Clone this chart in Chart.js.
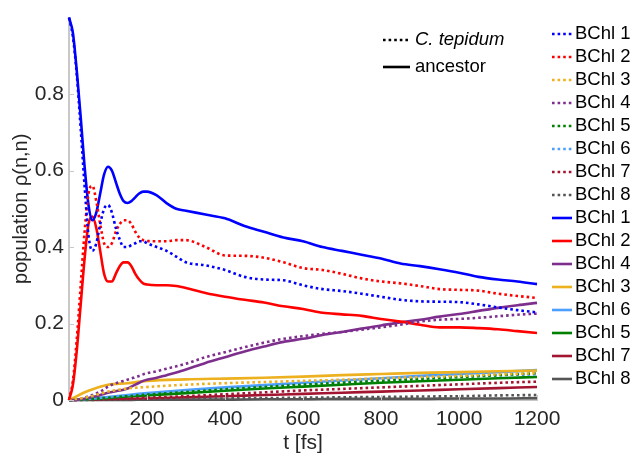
<!DOCTYPE html>
<html>
<head>
<meta charset="utf-8">
<script src="https://cdn.jsdelivr.net/npm/chart.js@4"></script>
<style>
  html, body { margin: 0; padding: 0; background: #fff; }
  #wrap { width: 635px; height: 459px; }
</style>
</head>
<body>
<div id="wrap"><canvas id="popChart" width="635" height="459"></canvas></div>
<script>
// time grids (fs)
const tFine = [0, 10, 20, 30, 40, 50, 60, 70, 80, 90, 100, 110, 120, 130, 140, 150, 160, 170, 180, 190, 200,
  225, 250, 275, 300, 350, 400, 450, 500, 550, 600, 650, 700, 750, 800, 850, 900, 950, 1000, 1050, 1100, 1150, 1200];
const tCoarse = [0, 50, 100, 150, 200, 300, 400, 500, 600, 700, 800, 900, 1000, 1100, 1200];

// C. tepidum (dotted)
const tep1 = [1.0, 0.95, 0.85, 0.71, 0.56, 0.43, 0.39, 0.41, 0.46, 0.50, 0.51, 0.49, 0.45, 0.42, 0.40, 0.40, 0.405, 0.41, 0.415, 0.415, 0.41,
  0.40, 0.39, 0.375, 0.36, 0.352, 0.34, 0.322, 0.315, 0.313, 0.30, 0.29, 0.285, 0.278, 0.27, 0.262, 0.258, 0.257, 0.256, 0.25, 0.242, 0.235, 0.229];
const tep2 = [0, 0.05, 0.16, 0.30, 0.44, 0.54, 0.56, 0.52, 0.46, 0.41, 0.40, 0.41, 0.44, 0.46, 0.47, 0.47, 0.46, 0.44, 0.425, 0.418, 0.416,
  0.415, 0.415, 0.418, 0.418, 0.40, 0.378, 0.377, 0.372, 0.36, 0.345, 0.34, 0.33, 0.318, 0.31, 0.305, 0.298, 0.29, 0.288, 0.286, 0.278, 0.272, 0.267];
const tep4 = [0, 0, 0.001, 0.003, 0.006, 0.01, 0.013, 0.017, 0.022, 0.028, 0.035, 0.04, 0.044, 0.047, 0.05, 0.053, 0.056, 0.06, 0.063, 0.067, 0.07,
  0.075, 0.082, 0.088, 0.095, 0.112, 0.125, 0.138, 0.15, 0.16, 0.167, 0.173, 0.178, 0.184, 0.19, 0.197, 0.205, 0.21, 0.212, 0.215, 0.219, 0.223, 0.226];
const tep3 = [0, 0.008, 0.022, 0.03, 0.034, 0.04, 0.044, 0.047, 0.05, 0.053, 0.057, 0.06, 0.063, 0.067, 0.070];
const tep5 = [0, 0.002, 0.006, 0.010, 0.014, 0.021, 0.028, 0.034, 0.040, 0.045, 0.050, 0.055, 0.060, 0.065, 0.070];
const tep6 = [0, 0.002, 0.007, 0.011, 0.016, 0.023, 0.029, 0.035, 0.041, 0.046, 0.051, 0.056, 0.060, 0.064, 0.067];
const tep7 = [0, 0.001, 0.003, 0.004, 0.006, 0.010, 0.015, 0.020, 0.025, 0.029, 0.033, 0.037, 0.041, 0.045, 0.048];
const tep8 = [0, 0, 0.001, 0.001, 0.002, 0.003, 0.004, 0.005, 0.006, 0.007, 0.008, 0.009, 0.010, 0.012, 0.013];

// ancestor (solid)
const anc1 = [1.0, 0.96, 0.86, 0.74, 0.61, 0.51, 0.47, 0.49, 0.54, 0.59, 0.61, 0.60, 0.57, 0.54, 0.52, 0.515, 0.52, 0.53, 0.54, 0.545, 0.545,
  0.535, 0.515, 0.50, 0.495, 0.485, 0.475, 0.455, 0.44, 0.425, 0.415, 0.40, 0.39, 0.38, 0.37, 0.357, 0.35, 0.342, 0.333, 0.322, 0.315, 0.31, 0.303];
const anc2 = [0, 0.04, 0.13, 0.25, 0.37, 0.46, 0.48, 0.45, 0.39, 0.33, 0.31, 0.31, 0.33, 0.35, 0.36, 0.36, 0.35, 0.33, 0.315, 0.305, 0.302,
  0.30, 0.30, 0.298, 0.293, 0.28, 0.27, 0.262, 0.255, 0.245, 0.238, 0.228, 0.224, 0.22, 0.212, 0.205, 0.197, 0.19, 0.19, 0.188, 0.185, 0.18, 0.175];
const anc4 = [0, 0, 0.001, 0.002, 0.003, 0.005, 0.008, 0.01, 0.013, 0.016, 0.019, 0.021, 0.023, 0.025, 0.027, 0.03, 0.035, 0.04, 0.045, 0.05, 0.053,
  0.058, 0.065, 0.072, 0.08, 0.097, 0.112, 0.127, 0.14, 0.152, 0.16, 0.17, 0.178, 0.187, 0.195, 0.203, 0.21, 0.218, 0.225, 0.233, 0.241, 0.248, 0.254];
const anc3 = [0, 0.024, 0.040, 0.044, 0.050, 0.054, 0.056, 0.058, 0.061, 0.065, 0.068, 0.071, 0.073, 0.075, 0.077];
const anc6 = [0, 0.003, 0.008, 0.013, 0.018, 0.026, 0.033, 0.039, 0.045, 0.051, 0.057, 0.063, 0.068, 0.073, 0.078];
const anc5 = [0, 0.002, 0.005, 0.009, 0.012, 0.018, 0.024, 0.030, 0.035, 0.040, 0.045, 0.049, 0.053, 0.057, 0.060];
const anc7 = [0, 0.001, 0.002, 0.003, 0.004, 0.007, 0.010, 0.013, 0.016, 0.019, 0.022, 0.025, 0.028, 0.031, 0.034];
const anc8 = [0, 0, 0, 0, 0.001, 0.001, 0.001, 0.002, 0.002, 0.003, 0.003, 0.003, 0.004, 0.004, 0.005];

const xTicks = [200, 400, 600, 800, 1000, 1200];
const yTicks = [0, 0.2, 0.4, 0.6, 0.8];

const colors = {
  b1: '#0000ff', b2: '#ff0000', b3: '#edb120', b4: '#7e2f8e',
  b5: '#008000', b6: '#4d9fff', b7: '#a2142f', b8: '#555555'
};

const pts = (t, v) => t.map((x, i) => ({ x: x, y: v[i] }));
const dotted = (label, t, v, c) => ({ label, data: pts(t, v), borderColor: c, borderDash: [2.6, 3], dotted: true });
const solid = (label, t, v, c) => ({ label, data: pts(t, v), borderColor: c, dotted: false });

const datasets = [
  dotted('BChl 1', tFine, tep1, colors.b1),
  dotted('BChl 2', tFine, tep2, colors.b2),
  dotted('BChl 3', tCoarse, tep3, colors.b3),
  dotted('BChl 4', tFine, tep4, colors.b4),
  dotted('BChl 5', tCoarse, tep5, colors.b5),
  dotted('BChl 6', tCoarse, tep6, colors.b6),
  dotted('BChl 7', tCoarse, tep7, colors.b7),
  dotted('BChl 8', tCoarse, tep8, colors.b8),
  solid('BChl 1', tFine, anc1, colors.b1),
  solid('BChl 2', tFine, anc2, colors.b2),
  solid('BChl 4', tFine, anc4, colors.b4),
  solid('BChl 3', tCoarse, anc3, colors.b3),
  solid('BChl 6', tCoarse, anc6, colors.b6),
  solid('BChl 5', tCoarse, anc5, colors.b5),
  solid('BChl 7', tCoarse, anc7, colors.b7),
  solid('BChl 8', tCoarse, anc8, colors.b8)
];

const FONT = '"Liberation Sans", Arial, sans-serif';
const TXT = '#262626';

// inward tick marks + the two legends
const extras = {
  id: 'extras',
  afterDraw(chart) {
    const ctx = chart.ctx;
    const xs = chart.scales.x, ys = chart.scales.y;
    const a = chart.chartArea;
    ctx.save();
    ctx.strokeStyle = '#c8c8c8';
    ctx.lineWidth = 1;
    xTicks.forEach(v => {
      const px = Math.round(xs.getPixelForValue(v)) + 0.5;
      ctx.beginPath(); ctx.moveTo(px, a.bottom); ctx.lineTo(px, a.bottom - 5); ctx.stroke();
    });
    yTicks.forEach(v => {
      const py = Math.round(ys.getPixelForValue(v)) + 0.5;
      ctx.beginPath(); ctx.moveTo(a.left, py); ctx.lineTo(a.left + 5, py); ctx.stroke();
    });

    // style legend
    ctx.fillStyle = '#000';
    ctx.textBaseline = 'middle';
    ctx.lineWidth = 2.6;
    ctx.strokeStyle = '#000';
    ctx.setLineDash([2.6, 3]);
    ctx.beginPath(); ctx.moveTo(383, 40); ctx.lineTo(410, 40); ctx.stroke();
    ctx.setLineDash([]);
    ctx.beginPath(); ctx.moveTo(383, 67); ctx.lineTo(410, 67); ctx.stroke();
    ctx.font = 'italic 18.5px ' + FONT;
    ctx.fillText('C. tepidum', 415, 40);
    ctx.font = '18.5px ' + FONT;
    ctx.fillText('ancestor', 415, 67);

    // series legend
    chart.data.datasets.forEach((ds, i) => {
      const y = 34 + i * 23;
      ctx.strokeStyle = ds.borderColor;
      ctx.setLineDash(ds.dotted ? [2.6, 3] : []);
      ctx.beginPath(); ctx.moveTo(552, y); ctx.lineTo(572, y); ctx.stroke();
      ctx.fillText(ds.label, 575, y);
    });
    ctx.restore();
  }
};

new Chart(document.getElementById('popChart'), {
  type: 'line',
  data: { datasets: datasets },
  options: {
    responsive: false,
    animation: false,
    layout: { padding: { top: 10, right: 98, left: 0, bottom: 0 } },
    elements: {
      point: { radius: 0 },
      line: { borderWidth: 2.6, tension: 0, cubicInterpolationMode: 'monotone', fill: false }
    },
    datasets: { line: { clip: false } },
    plugins: { legend: { display: false }, tooltip: { enabled: false } },
    scales: {
      x: {
        type: 'linear', min: 0, max: 1200,
        afterBuildTicks: s => { s.ticks = xTicks.map(v => ({ value: v })); },
        afterFit: s => { s.height = 59; },
        grid: { display: false, drawTicks: false, tickLength: 0 },
        border: { color: '#c8c8c8', width: 2 },
        ticks: { color: TXT, font: { family: FONT, size: 21 }, padding: 7, maxRotation: 0,
          callback: v => String(v) },
        title: { display: true, text: 't [fs]', color: TXT, font: { family: FONT, size: 21 }, padding: { top: 0, bottom: 3 } }
      },
      y: {
        min: 0, max: 1,
        afterBuildTicks: s => { s.ticks = yTicks.map(v => ({ value: v })); },
        afterFit: s => { s.width = 69; },
        grid: { display: false, drawTicks: false, tickLength: 0 },
        border: { color: '#c8c8c8', width: 2 },
        ticks: { color: TXT, font: { family: FONT, size: 21 }, padding: 5,
          callback: v => String(Math.round(v * 10) / 10) },
        title: { display: true, text: 'population ρ(n,n)', color: TXT, font: { family: FONT, size: 20 }, padding: { top: 9, bottom: 0 } }
      }
    }
  },
  plugins: [extras]
});
</script>
</body>
</html>
